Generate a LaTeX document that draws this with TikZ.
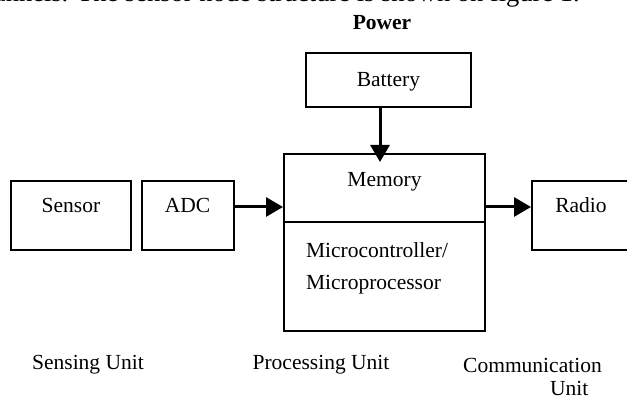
\documentclass[tikz,border=0pt]{standalone}
\usepackage{fontspec}
\setmainfont{Liberation Serif}
\usetikzlibrary{arrows.meta}

\begin{document}
\begin{tikzpicture}[x=1pt, y=-1pt,
    block/.style={rectangle, draw=black, line width=2pt, inner sep=0pt, text height=14pt, text depth=#1, font=\fontsize{21.5}{23}\selectfont},
    block/.default=19pt,
    caption/.style={inner sep=0pt, font=\fontsize{21.5}{23}\selectfont},
    arrow/.style={-{Triangle[length=17pt, width=19pt]}, line width=3pt}
  ]
    \useasboundingbox (0,0) rectangle (627,403);
    \clip (0,0) rectangle (627,403);

    % Text on top
    \node[caption, font=\fontsize{26.5}{30}\selectfont, anchor=base east] (intro) at (580,1.5) {channels. The sensor node structure is shown on figure 1.};
    \node[caption, font=\fontsize{21.5}{23}\selectfont\bfseries] (power) at (382,23) {Power};

    % Units
    \node[block=0pt, minimum width=165pt, minimum height=54pt] (battery) at (388.5,80) {Battery};
    \node[block, minimum width=120pt, minimum height=69pt] (sensor) at (71,215.5) {Sensor};
    \node[block, minimum width=92pt, minimum height=69pt] (adc) at (187.5,215.5) {ADC};
    \node[block=16pt, minimum width=201pt, minimum height=68pt] (mem) at (384.5,188) {Memory};
    \node[block=53pt, text height=15pt, minimum width=201pt, minimum height=109pt, text width=157pt, align=left] (micro) at (384.5,276.5) {Microcontroller/\\[9pt]Microprocessor};
    \node[block, minimum width=98pt, minimum height=69pt] (radio) at (581,215.5) {Radio};

    % Captions below
    \node[caption] (sensing) at (88,365) {Sensing Unit};
    \node[caption] (processing) at (321,365) {Processing Unit};
    \node[caption, anchor=west, align=left] (comm) at (463,376.5) {Communication\\\hspace*{87pt}Unit};

    % Connections
    \draw[arrow] ([xshift=-8.5pt]battery.south) -- ([xshift=-8.5pt, yshift=-9pt]battery.south |- mem.north);
    \draw[arrow] ([yshift=8.5pt]adc.east) -- ([yshift=8.5pt]adc.east -| mem.west);
    \draw[arrow] ([yshift=8.5pt]radio.west -| mem.east) -- ([yshift=8.5pt]radio.west);
  \end{tikzpicture}
\end{document}
